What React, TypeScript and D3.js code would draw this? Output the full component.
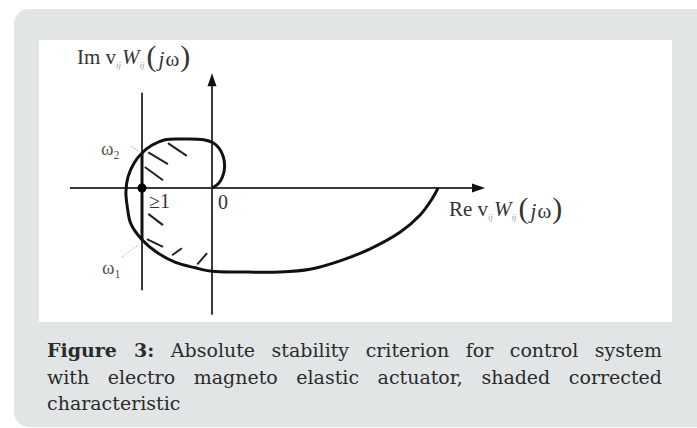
import React from "react";
import { scaleLinear, line, curveCatmullRom } from "d3";

// hodograph of v_ij W_ij(jw) (Re, Im)
const curveRe = [0, 0.09, 0.15, 0.18, 0.16, 0.1, 0.01, -0.12, -0.39, -0.67, -0.86, -1.0, -1.11, -1.2, -1.23, -1.21, -1.16, -1.0, -0.8, -0.53, -0.24, 0, 0.4, 0.97, 1.4, 1.83, 2.26, 2.69, 2.97, 3.14, 3.23];
const curveIm = [0, 0.06, 0.16, 0.3, 0.45, 0.57, 0.65, 0.69, 0.7, 0.69, 0.61, 0.5, 0.36, 0.16, -0.06, -0.27, -0.51, -0.74, -0.91, -1.06, -1.14, -1.19, -1.2, -1.2, -1.16, -1.04, -0.87, -0.63, -0.39, -0.16, 0];

// corrected characteristic: vertical part at Re = -1 between w2 and w1
const omega2Im = 0.5;
const omega1Im = -0.74;

// hatch strokes [re1, im1, re2, im2]
const hatches = [
  [-0.63, 0.64, -0.36, 0.46],
  [-0.91, 0.51, -0.63, 0.34],
  [-0.96, 0.3, -0.7, 0.11],
  [-0.91, -0.37, -0.7, -0.53],
  [-0.93, -0.73, -0.7, -0.84],
  [-0.57, -0.96, -0.43, -0.86],
  [-0.21, -1.09, -0.07, -0.93]
];

const reAxis = [-2.03, 3.9];
const imAxis = [-1.81, 1.64];
const minusOneLine = [-1.46, 1.36];

const captionLines = [
  ["Figure 3:", " Absolute stability criterion for control system"],
  ["", "with electro magneto elastic actuator, shaded corrected"],
  ["", "characteristic"]
];

function FreqLabel({ x, y, prefix }: { x: number; y: number; prefix: string }) {
  return (
    <text x={x} y={y} fontSize={21}>
      <tspan>{prefix} v</tspan>
      <tspan fontSize={9} dy={4} fill="#999" fontStyle="italic">ij</tspan>
      <tspan fontSize={21} dy={-4} dx={1} fontStyle="italic">W</tspan>
      <tspan fontSize={9} dy={4} fill="#999" fontStyle="italic">ij</tspan>
      <tspan fontSize={30} dy={-2} dx={2}>(</tspan>
      <tspan fontSize={21} dx={2} fontStyle="italic">j</tspan>
      <tspan fontSize={21} dx={1}>ω</tspan>
      <tspan fontSize={30} dx={1}>)</tspan>
    </text>
  );
}

export default function App() {
  const width = 697,
    height = 428;

  const x = scaleLinear().domain([-1, 0]).range([142, 212]);
  const y = scaleLinear().domain([-1, 0]).range([258, 188]);

  const pts: [number, number][] = curveRe.map((r, i) => [r, curveIm[i]]);
  const path = line<[number, number]>()
    .x(d => x(d[0]))
    .y(d => y(d[1]))
    .curve(curveCatmullRom.alpha(0.5))(pts);

  const axisColor = "#3a3a3a";
  const labelFont = "'Liberation Serif', 'Times New Roman', serif";

  return (
    <div style={{ position: "absolute", left: 0, top: 0, width, height }}>
      <svg width={width} height={height} style={{ display: "block" }}>
        <rect x={14} y={9} width={700} height={418} rx={15} fill="#e2e5e6" />
        <rect x={39} y={40} width={633} height={282} fill="#ffffff" />

        {/* axes */}
        <line x1={x(reAxis[0])} x2={x(reAxis[1]) - 10} y1={y(0)} y2={y(0)} stroke={axisColor} strokeWidth={2} />
        <path d={`M${x(reAxis[1])},${y(0)} l-13,-4.5 l0,9 Z`} fill="#111" />
        <line x1={x(0)} x2={x(0)} y1={y(imAxis[0])} y2={y(imAxis[1]) + 10} stroke={axisColor} strokeWidth={2} />
        <path d={`M${x(0)},${y(imAxis[1])} l-4.5,13 l9,0 Z`} fill="#111" />
        <line x1={x(-1)} x2={x(-1)} y1={y(minusOneLine[0])} y2={y(minusOneLine[1])} stroke={axisColor} strokeWidth={2} />

        {/* hatching */}
        {hatches.map((h, i) => (
          <line key={i} x1={x(h[0])} y1={y(h[1])} x2={x(h[2])} y2={y(h[3])} stroke="#222" strokeWidth={2} />
        ))}

        {/* characteristic */}
        <path d={path || ""} fill="none" stroke="#111" strokeWidth={3} strokeLinejoin="round" />
        <line x1={x(-1)} x2={x(-1)} y1={y(omega2Im)} y2={y(omega1Im)} stroke="#111" strokeWidth={3} />
        <circle cx={x(-1)} cy={y(0)} r={4.5} fill="#000" />

        {/* leader lines */}
        <line x1={131} y1={146} x2={141} y2={153} stroke="#aaa" strokeWidth={1} strokeDasharray="2,1.5" />
        <line x1={122} y1={257} x2={138} y2={245} stroke="#bbb" strokeWidth={1} strokeDasharray="2,1.5" />

        {/* labels */}
        <g fontFamily={labelFont} fill="#333">
          <FreqLabel x={77} y={64} prefix="Im" />
          <FreqLabel x={449} y={216} prefix="Re" />
          <text x={101} y={155} fontSize={19} fill="#555">
            ω<tspan fontSize={12} dy={4}>2</tspan>
          </text>
          <text x={102} y={274} fontSize={19} fill="#555">
            ω<tspan fontSize={12} dy={4}>1</tspan>
          </text>
          <text x={149} y={208} fontSize={20}>≥1</text>
          <text x={218} y={209} fontSize={20}>0</text>
        </g>
      </svg>

      <div
        style={{
          position: "absolute",
          left: 47,
          top: 337,
          width: 615,
          fontFamily: "'DejaVu Serif', serif",
          fontSize: 19,
          lineHeight: "26.5px",
          color: "#2b2b2b"
        }}
      >
        {captionLines.map((l, i) => (
          <div
            key={i}
            style={{
              textAlign: i < 2 ? "justify" : "left",
              textAlignLast: i < 2 ? "justify" : "left",
              whiteSpace: "nowrap"
            }}
          >
            {l[0] && <b>{l[0]}</b>}
            {l[1]}
          </div>
        ))}
      </div>
    </div>
  );
}
